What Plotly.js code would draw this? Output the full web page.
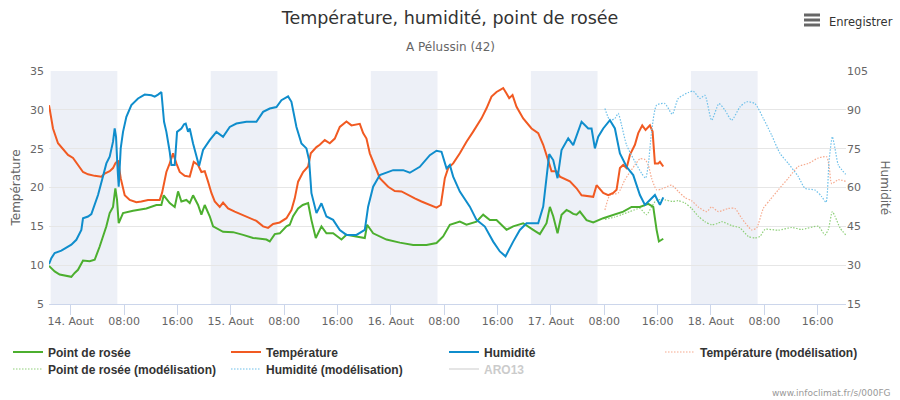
<!DOCTYPE html>
<html><head><meta charset="utf-8">
<script src="https://cdn.plot.ly/plotly-3.0.1.min.js"></script>
<style>html,body{margin:0;padding:0;background:#fff}#chart{width:900px;height:400px}</style>
</head><body><div id="chart"></div>
<script>
// Times are "day hh:mm" in August
const tempTimes = ["13 20:45","13 21:21","13 22:06","13 22:51","13 23:36","14 00:21","14 01:06","14 01:51","14 02:36","14 03:36","14 04:36","14 05:06","14 05:51","14 06:21","14 06:42","14 07:06","14 07:30","14 08:06","14 08:51","14 09:51","14 10:36","14 11:36","14 12:36","14 13:21","14 13:42","14 14:21","14 14:51","14 15:21","14 15:51","14 16:21","14 17:06","14 17:51","14 18:27","14 19:06","14 19:36","14 20:06","14 20:36","14 21:06","14 21:36","14 22:21","14 22:51","14 23:36","15 00:36","15 01:36","15 02:51","15 03:51","15 04:51","15 05:36","15 06:21","15 07:21","15 08:21","15 09:06","15 09:36","15 10:06","15 10:51","15 11:36","15 12:00","15 12:51","15 13:21","15 14:06","15 14:51","15 15:36","15 16:21","15 17:21","15 18:06","15 18:36","15 19:21","15 19:51","15 20:21","15 20:51","15 21:36","15 22:21","15 23:36","16 00:36","16 01:36","16 02:36","16 03:36","16 04:36","16 05:51","16 06:51","16 07:30","16 08:06","16 08:36","16 09:21","16 10:21","16 11:21","16 12:21","16 13:36","16 14:21","16 15:06","16 15:51","16 16:51","16 17:21","16 17:45","16 18:15","16 18:51","16 19:51","16 21:06","16 22:06","16 22:51","16 23:36","17 00:06","17 00:51","17 01:21","17 02:51","17 03:51","17 04:36","17 05:51","17 06:21","17 06:51","17 07:51","17 08:36","17 09:21","17 09:51","17 10:21","17 10:51","17 11:21","17 11:51","17 12:36","17 13:06","17 13:42","17 14:12","17 14:51","17 15:15","17 15:36","17 16:06","17 16:21","17 16:51"];
const tempValues = [30.6,27.6,25.7,25.0,24.2,23.8,22.9,22.0,21.7,21.5,21.4,21.8,22.1,22.5,23.1,23.5,21.2,19.0,18.4,18.1,18.2,18.4,18.4,18.4,19.3,22.0,23.1,24.4,23.1,22.0,21.5,21.4,23.3,22.9,22.0,22.1,20.75,19.3,18.2,17.5,18.05,17.3,16.9,16.55,16.05,15.7,15.0,14.8,15.3,15.5,16.05,17.1,18.6,20.75,22.0,22.7,24.4,25.2,25.5,26.1,25.7,26.3,27.8,28.5,28.0,28.1,28.2,27.0,26.3,24.4,22.9,21.2,20.1,19.55,19.5,19.0,18.6,18.2,17.75,17.4,17.75,21.2,22.5,23.1,24.4,25.9,27.2,28.9,30.2,31.7,32.3,32.8,32.1,31.5,31.9,30.4,28.9,27.6,27.0,25.5,23.5,22.1,22.1,21.4,20.8,19.9,19.0,18.8,18.8,20.3,19.3,19.0,19.3,19.7,22.5,22.9,22.5,24.2,25.5,27.0,28.0,27.4,28.0,27.2,23.1,23.1,23.3,22.7];

const dewTimes = ["13 20:45","13 21:36","13 22:21","13 23:21","14 00:06","14 00:36","14 01:06","14 01:51","14 02:51","14 03:36","14 04:21","14 05:21","14 05:51","14 06:21","14 06:42","14 06:57","14 07:12","14 07:51","14 09:21","14 11:21","14 12:51","14 13:36","14 13:57","14 14:51","14 15:36","14 16:06","14 16:36","14 17:21","14 17:51","14 18:21","14 19:06","14 19:36","14 20:06","14 20:51","14 21:21","14 22:51","15 00:21","15 01:51","15 03:21","15 05:21","15 05:51","15 06:36","15 07:21","15 08:21","15 08:51","15 09:21","15 10:06","15 10:48","15 11:36","15 12:06","15 12:45","15 13:36","15 14:21","15 15:21","15 16:36","15 17:21","15 18:51","15 20:06","15 20:27","15 21:21","15 23:21","16 01:21","16 03:21","16 05:21","16 06:51","16 07:51","16 08:51","16 10:21","16 11:21","16 12:51","16 13:51","16 14:51","16 15:51","16 17:21","16 18:21","16 19:51","16 21:21","16 22:21","16 23:21","16 23:51","17 00:21","17 01:00","17 01:36","17 02:21","17 02:51","17 03:21","17 03:51","17 04:21","17 05:21","17 06:21","17 07:51","17 09:21","17 10:51","17 12:06","17 13:21","17 14:36","17 15:21","17 15:51","17 16:12","17 16:51"];
const dewValues = [9.9,9.2,8.8,8.65,8.5,9.0,9.4,10.6,10.5,10.7,12.4,15.0,16.7,17.5,19.9,18.4,15.4,16.7,17.0,17.3,17.75,17.75,19.0,18.0,17.5,19.5,18.2,18.4,18.0,19.0,17.75,16.5,17.75,16.3,15.0,14.3,14.25,13.9,13.5,13.3,13.05,14.0,14.1,15.0,15.2,16.3,17.3,17.75,18.0,15.8,13.5,15.0,14.1,14.1,13.3,13.9,13.7,13.5,15.2,14.1,13.3,12.9,12.6,12.6,12.85,13.7,15.2,15.6,15.2,15.6,16.5,15.8,15.8,14.55,15.0,15.4,14.55,14.0,15.4,17.5,16.3,14.1,16.5,17.1,16.9,16.6,16.5,16.9,15.8,15.5,16.05,16.5,16.9,17.5,17.5,17.9,17.5,14.55,13.05,13.4];

const humTimes = ["13 20:45","13 21:06","13 21:36","13 22:36","13 23:21","14 00:06","14 00:51","14 01:36","14 01:51","14 02:36","14 03:06","14 03:36","14 04:06","14 04:42","14 05:21","14 05:51","14 06:21","14 06:36","14 06:48","14 07:00","14 07:12","14 07:30","14 07:51","14 08:21","14 09:06","14 10:06","14 11:06","14 12:06","14 12:36","14 13:06","14 13:36","14 14:00","14 14:21","14 14:51","14 15:06","14 15:36","14 15:57","14 16:36","14 17:00","14 17:15","14 17:36","14 17:51","14 18:21","14 19:15","14 19:51","14 20:51","14 21:51","14 22:51","14 23:51","15 00:51","15 02:21","15 03:51","15 04:51","15 05:51","15 06:51","15 07:36","15 08:36","15 09:06","15 09:21","15 09:36","15 09:51","15 10:36","15 11:21","15 11:45","15 12:06","15 12:51","15 13:36","15 14:21","15 15:21","15 16:21","15 17:21","15 18:51","15 20:06","15 20:36","15 21:21","15 22:21","16 00:21","16 01:51","16 02:51","16 04:21","16 05:51","16 06:51","16 07:36","16 08:21","16 08:51","16 09:21","16 10:21","16 11:51","16 12:51","16 14:06","16 15:21","16 16:21","16 17:12","16 18:21","16 19:21","16 20:21","16 22:06","16 22:51","16 23:21","16 23:45","17 00:21","17 01:00","17 01:36","17 02:36","17 03:21","17 04:36","17 05:36","17 06:06","17 06:36","17 07:06","17 07:51","17 08:51","17 09:36","17 10:21","17 11:21","17 12:21","17 13:21","17 14:06","17 14:51","17 15:36","17 16:21","17 16:51"];
const humValues = [30.4,32.7,34.7,35.6,36.8,37.9,39.8,43.6,48.1,48.8,49.7,53.3,57.1,62.9,69.3,71.9,77.7,82.8,79.6,68.7,60.3,75.1,81.5,87.3,91.8,94.4,95.9,95.6,95.1,95.9,96.9,85.4,81.5,73.8,68.7,68.7,81.5,82.8,84.4,84.7,81.5,82.8,77.0,68.3,74.5,78.3,81.5,79.6,83.4,84.7,85.4,85.4,89.2,90.5,91.1,93.7,95.2,93.1,89.9,87.3,83.4,77.0,75.1,70.6,57.8,50.1,53.9,48.8,47.5,43.6,41.7,41.7,43.6,52.6,60.3,64.8,66.7,66.7,65.7,68.0,72.5,74.2,73.8,67.4,68.7,64.2,58.4,52.6,47.5,44.9,39.1,35.3,33.4,39.1,43.6,46.2,46.2,52.6,64.2,72.9,70.6,63.6,74.5,79.0,76.4,85.4,82.8,82.8,75.1,79.6,82.8,86.0,82.8,73.2,68.0,64.8,57.1,53.3,55.2,57.1,53.3,56.2];

const tempModelTimes = ["17 08:06","17 08:51","17 10:06","17 11:06","17 12:36","17 13:21","17 14:06","17 14:36","17 15:06","17 15:51","17 16:36","17 18:06","17 19:06","17 20:06","17 21:06","17 22:06","17 23:21","18 00:06","18 01:06","18 02:36","18 03:36","18 04:36","18 06:06","18 06:51","18 07:51","18 08:51","18 10:06","18 11:36","18 13:06","18 14:36","18 16:06","18 17:21","18 17:45","18 18:06","18 19:06","18 20:12"];
const tempModelValues = [17.1,19.0,19.3,21.0,22.9,23.7,23.6,22.9,21.2,19.7,19.8,20.3,19.5,18.7,18.3,17.5,16.9,17.5,16.9,17.3,17.3,16.05,14.55,14.8,17.3,18.4,19.7,21.2,22.7,23.1,23.8,23.95,22.5,20.5,21.0,20.8];

const dewModelTimes = ["17 08:06","17 09:36","17 10:36","17 11:51","17 13:21","17 14:21","17 15:06","17 15:51","17 17:06","17 18:12","17 19:06","17 20:06","17 21:06","17 22:06","17 23:06","18 00:06","18 01:06","18 01:36","18 03:06","18 04:21","18 05:36","18 06:36","18 07:21","18 08:06","18 10:06","18 12:06","18 13:36","18 16:06","18 17:06","18 17:36","18 18:12","18 18:36","18 19:21","18 20:12"];
const dewModelValues = [15.9,16.2,16.5,16.9,17.3,16.5,17.5,18.4,18.4,18.2,18.3,18.0,17.3,16.3,15.6,15.2,15.4,15.6,15.1,14.8,13.7,13.5,13.7,14.6,14.5,14.85,14.6,15.0,13.9,14.6,16.9,16.3,14.8,13.9];

const humModelTimes = ["17 08:06","17 08:51","17 09:36","17 10:06","17 10:36","17 11:21","17 12:36","17 13:36","17 14:12","17 14:36","17 15:06","17 15:51","17 17:06","17 18:12","17 19:06","17 20:36","17 21:21","17 22:21","17 23:06","18 00:06","18 01:12","18 02:06","18 03:06","18 04:21","18 05:21","18 06:36","18 07:51","18 09:06","18 10:21","18 11:36","18 13:06","18 14:06","18 15:36","18 16:36","18 17:15","18 17:42","18 18:12","18 18:36","18 19:06","18 20:12"];
const humModelValues = [90.5,86.0,86.7,88.6,84.1,76.4,70.0,65.5,63.6,68.7,81.5,91.8,92.4,88.3,94.4,96.7,97.2,94.4,95.6,86.0,92.4,89.9,86.0,91.1,93.1,92.4,86.7,80.2,73.2,69.3,64.2,59.7,59.0,56.5,54.3,70.0,79.6,75.1,68.7,65.1];

const nightStarts = ["13 21:00","14 21:00","15 21:00","16 21:00","17 21:00"];
const nightEnds = ["14 07:00","15 07:00","16 07:00","17 07:00","18 07:00"];

const tickTimes = ["14 00:00","14 08:00","14 16:00","15 00:00","15 08:00","15 16:00","16 00:00","16 08:00","16 16:00","17 00:00","17 08:00","17 16:00","18 00:00","18 08:00","18 16:00"];
const tickLabels = ["14. Aout","08:00","16:00","15. Aout","08:00","16:00","16. Aout","08:00","16:00","17. Aout","08:00","16:00","18. Aout","08:00","16:00"];

const seriesNames = ["Point de rosée","Température","Humidité","Température (modélisation)","Point de rosée (modélisation)","Humidité (modélisation)","ARO13"];

function toDate(s){ const p = s.split(' '); return '2019-08-' + p[0] + ' ' + p[1]; }
const D = a => a.map(toDate);

const FONT = 'DejaVu Sans, Verdana, sans-serif';
const LEGFONT = {family:'Liberation Sans, Arial, sans-serif', size:12, color:'#333333', weight:'bold'};
const DOTS = '1.5px,1.5px';

const traces = [
  {name: seriesNames[3], x: D(tempModelTimes), y: tempModelValues, yaxis:'y', mode:'lines', legend:'legend2',
   line:{color:'#f6a98d', width:1.2, dash:DOTS, shape:'spline', smoothing:0.6}, legendrank:4},
  {name: seriesNames[4], x: D(dewModelTimes), y: dewModelValues, yaxis:'y', mode:'lines', legend:'legend3',
   line:{color:'#8fd07a', width:1.2, dash:DOTS, shape:'spline', smoothing:0.6}, legendrank:5},
  {name: seriesNames[5], x: D(humModelTimes), y: humModelValues, yaxis:'y2', mode:'lines', legend:'legend3',
   line:{color:'#6ec0ea', width:1.2, dash:DOTS, shape:'spline', smoothing:0.6}, legendrank:6},
  {name: seriesNames[0], x: D(dewTimes), y: dewValues, yaxis:'y', mode:'lines', legend:'legend',
   line:{color:'#4caf2f', width:2}, legendrank:1},
  {name: seriesNames[1], x: D(tempTimes), y: tempValues, yaxis:'y', mode:'lines', legend:'legend',
   line:{color:'#f15a22', width:2}, legendrank:2},
  {name: seriesNames[2], x: D(humTimes), y: humValues, yaxis:'y2', mode:'lines', legend:'legend',
   line:{color:'#0f8dcc', width:2}, legendrank:3},
  {name: '<span style="color:#999999">' + seriesNames[6] + '</span>', x: [null], y: [null], yaxis:'y', mode:'lines',
   legend:'legend3', line:{color:'#cccccc', width:2}, visible:'legendonly', legendrank:7}
];

const shapes = nightStarts.map((s,i) => ({
  type:'rect', xref:'x', yref:'paper', x0: toDate(s), x1: toDate(nightEnds[i]), y0:0, y1:1,
  fillcolor:'#edf0f7', line:{width:0}, layer:'below'
}));
// menu icon
[15, 20, 25].forEach(py => shapes.push({type:'line', xref:'paper', yref:'paper',
  x0:(804-49)/797, x1:(820-49)/797, y0:(304-py)/233, y1:(304-py)/233, line:{color:'#666666', width:3}}));

const legCommon = {orientation:'h', xanchor:'left', yanchor:'middle', font:LEGFONT,
                   entrywidth:173, tracegroupgap:0, itemwidth:30, bgcolor:'rgba(0,0,0,0)'};

const layout = {
  width:900, height:400,
  margin:{l:49, r:54, t:71, b:96, autoexpand:false},
  paper_bgcolor:'#ffffff', plot_bgcolor:'#ffffff',
  font:{family:FONT, color:'#666666', size:11},
  title:{text:'Température, humidité, point de rosée', font:{family:FONT, size:17.5, color:'#333333'},
         x:0.5, xref:'container', y:1-18/400, yref:'container', yanchor:'middle'},
  showlegend:true,
  legend: Object.assign({}, legCommon, {x:(8-49)/797, y:(304-352)/233}),
  legend2: Object.assign({}, legCommon, {x:(660-49)/797, y:(304-352)/233}),
  legend3: Object.assign({}, legCommon, {x:(8-49)/797, y:(304-369)/233}),
  xaxis:{type:'date', range:[toDate("13 20:45"), toDate("18 20:15")], automargin:false,
         tickmode:'array', tickvals:D(tickTimes), ticktext:tickLabels,
         showgrid:false, zeroline:false, showline:true, linecolor:'#ccd6eb', linewidth:1,
         ticks:'outside', ticklen:10, tickcolor:'#ccd6eb', ticklabelstandoff:-3,
         tickfont:{family:FONT, size:11, color:'#666666'}},
  yaxis:{range:[5,35], tickmode:'array', tickvals:[5,10,15,20,25,30,35], automargin:false,
         showgrid:true, gridcolor:'#e6e6e6', zeroline:false, showline:false, ticks:'',
         ticklabelstandoff:4,
         tickfont:{family:FONT, size:11, color:'#666666'},
         title:{text:'Température', font:{family:FONT, size:12, color:'#666666'}, standoff:6}},
  yaxis2:{range:[15,105], overlaying:'y', side:'right', tickmode:'array', tickvals:[15,30,45,60,75,90,105],
          automargin:false, showgrid:false, zeroline:false, showline:false, ticks:'',
          tickfont:{family:FONT, size:11, color:'#666666'}},
  shapes: shapes,
  annotations:[
    {text:'A Pélussin (42)', xref:'paper', yref:'paper', x:(450-49)/797, y:(304-47)/233, xanchor:'center', yanchor:'middle',
     showarrow:false, font:{family:FONT, size:12, color:'#666666'}},
    {text:'Humidité', xref:'paper', yref:'paper', x:(885-49)/797, y:0.5, xanchor:'center', yanchor:'middle',
     textangle:90, showarrow:false, font:{family:FONT, size:12, color:'#666666'}},
    {text:'Enregistrer', xref:'paper', yref:'paper', x:(861-49)/797, y:(304-22)/233, xanchor:'center', yanchor:'middle',
     showarrow:false, font:{family:FONT, size:11.5, color:'#333333'}},
    {text:'www.infoclimat.fr/s/000FG', xref:'paper', yref:'paper', x:(893-49)/797, xanchor:'right', yanchor:'middle',
     y:(304-393)/233, showarrow:false, font:{family:FONT, size:9, color:'#999999'}}
  ]
};

Plotly.newPlot('chart', traces, layout, {displayModeBar:false, staticPlot:true});
</script>
</body></html>
